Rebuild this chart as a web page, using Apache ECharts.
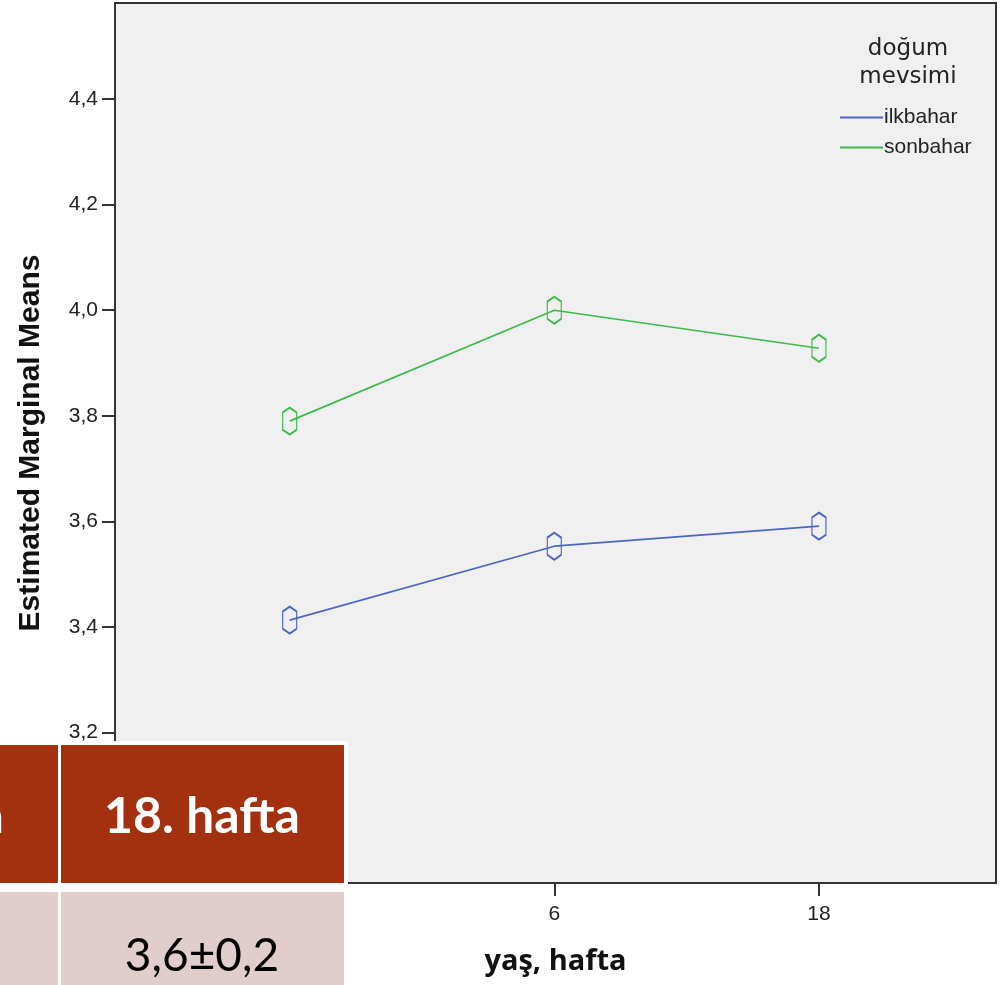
<!DOCTYPE html>
<html><head><meta charset="utf-8">
<script src="https://cdn.jsdelivr.net/npm/echarts@6/dist/echarts.min.js"></script>
<style>html,body{margin:0;padding:0;background:#fff}#c{width:1007px;height:985px}</style>
</head><body><div id="c"></div>
<script>
const weeks = ['2', '6', '18'];
const ilkbahar = [3.413, 3.553, 3.591];
const sonbahar = [3.79, 4.00, 3.928];
const yTicks = [3.2, 3.4, 3.6, 3.8, 4.0, 4.2, 4.4];
const seriesNames = ['ilkbahar', 'sonbahar'];
const colors = ['#4a66c4', '#3cbb4a'];

const hexPath = 'path://M5,0 L10,4 L10,18 L5,22 L0,18 L0,4 Z';

const chart = echarts.init(document.getElementById('c'));
const mk = (name, vals, col) => ({
  name, type: 'line',
  data: vals.map((v, i) => [i, v]),
  lineStyle: { color: col, width: 1.7 },
  symbol: hexPath, symbolSize: [14, 27],
  itemStyle: { color: 'rgba(0,0,0,0)', borderColor: col, borderWidth: 1.6 },
  emphasis: { disabled: true }
});
chart.setOption({
  animation: false,
  grid: { left: 115, right: 11, top: 3, bottom: 102, show: true,
          backgroundColor: '#f0f0f0', borderColor: '#333', borderWidth: 2 },
  xAxis: {
    type: 'value', min: -0.66, max: 2.669,
    axisLine: { show: true, onZero: false, lineStyle: { color: '#333', width: 2 } },
    axisTick: { show: true, customValues: [0, 1, 2], length: 13, lineStyle: { color: '#333', width: 2 } },
    axisLabel: { customValues: [0, 1, 2], formatter: v => weeks[Math.round(v)], color: '#222',
                 fontSize: 21, fontFamily: 'Liberation Sans', margin: 21 },
    splitLine: { show: false },
    name: 'yaş, hafta', nameLocation: 'middle', nameGap: 64,
    nameTextStyle: { fontSize: 29, fontWeight: 'bold', color: '#111', fontFamily: 'Open Sans' }
  },
  yAxis: {
    type: 'value', min: 2.915, max: 4.582,
    axisLine: { show: true, onZero: false, lineStyle: { color: '#333', width: 2 } },
    axisTick: { show: true, customValues: yTicks, length: 13, lineStyle: { color: '#333', width: 2 } },
    axisLabel: { customValues: yTicks, formatter: v => v.toFixed(1).replace('.', ','), color: '#222',
                 fontSize: 21, fontFamily: 'Liberation Sans', margin: 17 },
    splitLine: { show: false },
    name: 'Estimated Marginal Means', nameLocation: 'middle', nameGap: 69, nameRotate: 90,
    nameTextStyle: { fontSize: 30, fontWeight: 'bold', color: '#111', fontFamily: 'Liberation Sans' }
  },
  legend: {
    orient: 'vertical', left: 835, top: 102, itemGap: 9, itemWidth: 43, itemHeight: 2,
    icon: 'rect', selectedMode: false,
    data: seriesNames.map((n, i) => ({ name: n, itemStyle: { color: colors[i], borderWidth: 0 } })),
    textStyle: { fontSize: 21, color: '#222', fontFamily: 'Liberation Sans', padding: [0, 0, 0, -4] }
  },
  series: [mk(seriesNames[0], ilkbahar, colors[0]), mk(seriesNames[1], sonbahar, colors[1])],
  graphic: [
    { type: 'text', z: 10, style: { text: 'doğum\nmevsimi', x: 908, y: 35, align: 'center',
      fontSize: 23, lineHeight: 28, fill: '#222', fontFamily: 'DejaVu Sans' } },
    { type: 'rect', z: 100, shape: { x: -10, y: 741, width: 358, height: 260 }, style: { fill: '#fff' } },
    { type: 'rect', z: 101, shape: { x: -10, y: 745, width: 68, height: 138 }, style: { fill: '#a3300f' } },
    { type: 'rect', z: 101, shape: { x: 61, y: 745, width: 283, height: 138 }, style: { fill: '#a3300f' } },
    { type: 'rect', z: 101, shape: { x: -10, y: 892, width: 68, height: 110 }, style: { fill: '#e0cdcc' } },
    { type: 'rect', z: 101, shape: { x: 61, y: 892, width: 283, height: 110 }, style: { fill: '#e0cdcc' } },
    { type: 'text', z: 102, style: { text: '18. hafta', x: 202, y: 817, align: 'center', verticalAlign: 'middle',
      fontSize: 50, fontWeight: 'bold', fill: '#fff', fontFamily: 'Lato' } },
    { type: 'text', z: 102, style: { text: '6. hafta', x: 4, y: 817, align: 'right', verticalAlign: 'middle',
      fontSize: 50, fontWeight: 'bold', fill: '#fff', fontFamily: 'Lato' } },
    { type: 'text', z: 102, style: { text: '3,6±0,2', x: 202, y: 956, align: 'center', verticalAlign: 'middle',
      fontSize: 46, fill: '#000', fontFamily: 'Lato' } }
  ]
});
</script></body></html>
